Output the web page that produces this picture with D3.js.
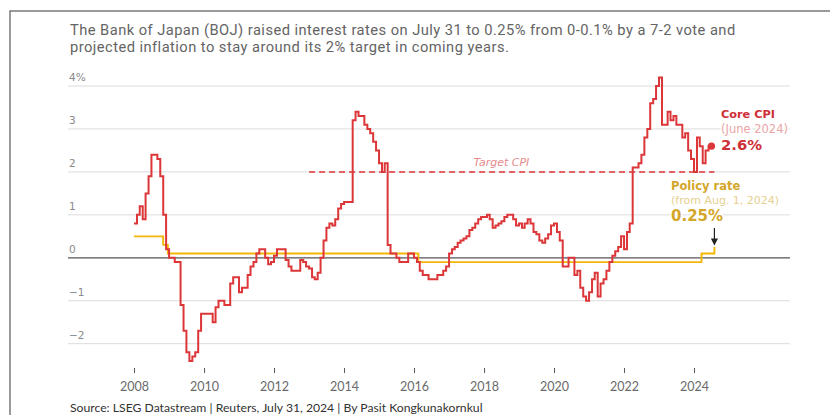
<!DOCTYPE html>
<html>
<head>
<meta charset="utf-8">
<script src="https://cdn.jsdelivr.net/npm/d3@7"></script>
<style>
  body { margin: 0; background: #fff; }
  svg { display: block; }
</style>
</head>
<body>
<svg id="chart" width="830" height="415"></svg>
<script>
// Japan core CPI (ex fresh food), y/y %, one value per month from Jan 2008
const cpiStart = new Date(2008, 0, 1);
const coreCpi = [
  0.8, 1.0, 1.2, 0.9, 1.5, 1.9, 2.4, 2.4, 2.3, 1.9, 1.0, 0.2,          // 2008
  0.0, 0.0, -0.1, -0.1, -1.1, -1.7, -2.2, -2.4, -2.3, -2.2, -1.7, -1.3, // 2009
  -1.3, -1.3, -1.3, -1.5, -1.15, -1.0, -1.0, -1.1, -1.1, -0.6, -0.45, -0.45, // 2010
  -0.8, -0.7, -0.7, -0.4, -0.2, -0.1, 0.1, 0.2, 0.2, 0.0, -0.15, -0.1,  // 2011
  0.05, 0.2, 0.2, 0.2, -0.05, -0.2, -0.3, -0.3, -0.3, -0.05, -0.1, -0.2, // 2012
  -0.25, -0.45, -0.5, -0.35, 0.0, 0.4, 0.7, 0.8, 0.75, 0.9, 1.15, 1.25, // 2013
  1.3, 1.3, 1.3, 3.2, 3.4, 3.3, 3.3, 3.1, 3.0, 2.9, 2.7, 2.5,           // 2014
  2.2, 2.0, 2.2, 0.3, 0.1, 0.1, 0.0, -0.1, -0.1, -0.1, 0.1, 0.1,        // 2015
  0.0, -0.1, -0.3, -0.4, -0.4, -0.5, -0.5, -0.5, -0.4, -0.4, -0.3, -0.2, // 2016
  0.1, 0.2, 0.25, 0.35, 0.4, 0.45, 0.5, 0.65, 0.7, 0.8, 0.9, 0.95,      // 2017
  0.95, 1.0, 0.9, 0.7, 0.75, 0.8, 0.85, 0.95, 1.0, 1.0, 0.9, 0.75,      // 2018
  0.8, 0.7, 0.8, 0.9, 0.8, 0.6, 0.55, 0.4, 0.35, 0.45, 0.55, 0.75,      // 2019
  0.8, 0.6, 0.4, -0.2, -0.2, 0.0, 0.0, -0.4, -0.3, -0.7, -0.9, -1.0,    // 2020
  -0.8, -0.5, -0.35, -0.9, -0.6, -0.5, -0.3, -0.1, 0.05, 0.15, 0.25, 0.5, // 2021
  0.2, 0.6, 0.8, 2.1, 2.1, 2.2, 2.4, 2.8, 3.0, 3.6, 3.7, 4.0,           // 2022
  4.2, 3.1, 3.1, 3.4, 3.2, 3.3, 3.1, 3.1, 2.8, 2.9, 2.5, 2.3,           // 2023
  2.0, 2.8, 2.6, 2.2, 2.5, 2.6                                          // 2024
];

// BOJ policy rate, % (date each level took effect)
const policyDates = ["2008-01-01", "2008-10-31", "2008-12-19", "2016-02-16", "2024-03-19", "2024-08-01"];
const policyRates = [0.5, 0.3, 0.1, -0.1, 0.1, 0.25];

const targetCpi = 2;
const targetSpan = ["2013-01-01", "2024-08-01"];

const yTicks = [4, 3, 2, 1, 0, -1, -2];
const yTickLabels = ["4%", "3", "2", "1", "0", "\u22121", "\u22122"];
const xTickYears = [2008, 2010, 2012, 2014, 2016, 2018, 2020, 2022, 2024];

const titleLines = [
  "The Bank of Japan (BOJ) raised interest rates on July 31 to 0.25% from 0-0.1% by a 7-2 vote and",
  "projected inflation to stay around its 2% target in coming years."
];
const sourceText = "Source: LSEG Datastream | Reuters, July 31, 2024 | By Pasit Kongkunakornkul";

const RED = "#dc3639";
const GOLD = "#f2b705";
const NOTE_FONT = "'DejaVu Sans', Verdana, sans-serif";
const BODY_FONT = "Lato, 'Open Sans', sans-serif";

const parse = d3.timeParse("%Y-%m-%d");
const svg = d3.select("#chart");

// Outer frame
svg.append("rect")
  .attr("x", 10).attr("y", 11)
  .attr("width", 840).attr("height", 420)
  .attr("fill", "none")
  .attr("stroke", "#7a7a7a")
  .attr("stroke-width", 1.5);

// Scales
const x = d3.scaleTime()
  .domain([new Date(2008, 0, 1), new Date(2024, 0, 1)])
  .range([134, 694]);

const y = d3.scaleLinear()
  .domain([-2, 4])
  .range([343.7, 86]);

const plotLeft = 68, plotRight = 790;

// Title
svg.append("g")
  .selectAll("text")
  .data(titleLines)
  .join("text")
  .attr("x", 70)
  .attr("y", (d, i) => 34.5 + i * 17.5)
  .attr("font-family", "Roboto, Lato, sans-serif")
  .attr("font-size", 14.7)
  .attr("letter-spacing", 0.45)
  .attr("fill", "#646464")
  .text(d => d);

// Horizontal gridlines + labels
const grid = svg.append("g");
grid.selectAll("line")
  .data(yTicks)
  .join("line")
  .attr("x1", plotLeft).attr("x2", plotRight)
  .attr("y1", d => y(d)).attr("y2", d => y(d))
  .attr("stroke", d => d === 0 ? "#555" : "#dcdcdc")
  .attr("stroke-width", d => d === 0 ? 1.2 : 1);

grid.selectAll("text")
  .data(yTicks)
  .join("text")
  .attr("x", 69)
  .attr("y", d => y(d) - 5)
  .attr("font-family", NOTE_FONT)
  .attr("font-size", 10.5)
  .attr("fill", "#8a8a8a")
  .text((d, i) => yTickLabels[i]);

// X axis: ticks and year labels only
const xAxis = svg.append("g")
  .attr("transform", "translate(0,368)")
  .call(d3.axisBottom(x)
    .tickValues(xTickYears.map(yr => new Date(yr, 0, 1)))
    .tickFormat(d3.timeFormat("%Y"))
    .tickSize(5)
    .tickPadding(9));
xAxis.select(".domain").remove();
xAxis.selectAll(".tick line").attr("stroke", "#555");
xAxis.selectAll(".tick text")
  .attr("font-family", BODY_FONT)
  .attr("font-size", 12.5)
  .attr("fill", "#6a6a6a");

// Inflation target
svg.append("line")
  .attr("x1", x(parse(targetSpan[0])))
  .attr("x2", x(parse(targetSpan[1])))
  .attr("y1", y(targetCpi)).attr("y2", y(targetCpi))
  .attr("stroke", RED)
  .attr("stroke-width", 1.5)
  .attr("stroke-dasharray", "6,4");

svg.append("text")
  .attr("x", x(new Date(2018, 6, 1)))
  .attr("y", y(targetCpi) - 6)
  .attr("text-anchor", "middle")
  .attr("font-family", NOTE_FONT)
  .attr("font-style", "italic")
  .attr("font-size", 11)
  .attr("fill", "#e58a8c")
  .text("Target CPI");

// Policy rate step line
const policy = policyDates.map((d, i) => ({ date: parse(d), value: policyRates[i] }));
const stepLine = d3.line()
  .x(d => x(d.date))
  .y(d => y(d.value))
  .curve(d3.curveStepAfter);

svg.append("path")
  .datum(policy)
  .attr("fill", "none")
  .attr("stroke", GOLD)
  .attr("stroke-width", 1.9)
  .attr("d", stepLine);

// Core CPI step line, each month held until the next
const cpi = coreCpi.map((v, i) => ({ date: d3.timeMonth.offset(cpiStart, i), value: v }));
const lastCpi = cpi[cpi.length - 1];
const cpiEnd = { date: d3.timeMonth.offset(lastCpi.date, 1), value: lastCpi.value };

svg.append("path")
  .datum(cpi.concat([cpiEnd]))
  .attr("fill", "none")
  .attr("stroke", RED)
  .attr("stroke-width", 2)
  .attr("d", stepLine);

svg.append("circle")
  .attr("cx", x(cpiEnd.date))
  .attr("cy", y(cpiEnd.value))
  .attr("r", 3.6)
  .attr("fill", RED);

// Annotations
function note(xPos, yPos, txt, size, weight, color) {
  svg.append("text")
    .attr("x", xPos).attr("y", yPos)
    .attr("font-family", NOTE_FONT)
    .attr("font-size", size)
    .attr("font-weight", weight)
    .attr("fill", color)
    .attr("stroke", "#fff")
    .attr("stroke-width", 3)
    .attr("paint-order", "stroke")
    .text(txt);
}

note(721, 118, "Core CPI", 11.3, 700, "#cf3037");
note(721, 132.5, "(June 2024)", 11.5, 400, "#eaa5a6");
note(721, 150, lastCpi.value.toFixed(1) + "%", 14.8, 700, "#cf3037");

const rateNow = policyRates[policyRates.length - 1];
note(671, 189.5, "Policy rate", 11.5, 700, "#d3a62a");
note(671, 204, "(from Aug. 1, 2024)", 11, 400, "#e6d08f");
note(671, 221, rateNow.toFixed(2) + "%", 15, 700, "#d3a62a");

// Arrow down to the new rate
const arrowX = x(parse(policyDates[policyDates.length - 1]));
svg.append("defs").append("marker")
  .attr("id", "arrowhead")
  .attr("viewBox", "0 0 10 10")
  .attr("refX", 5).attr("refY", 5)
  .attr("markerWidth", 6).attr("markerHeight", 6)
  .attr("orient", "auto")
  .append("path")
  .attr("d", "M0,0 L10,5 L0,10 z")
  .attr("fill", "#222");

svg.append("line")
  .attr("x1", arrowX).attr("x2", arrowX)
  .attr("y1", 228).attr("y2", 242)
  .attr("stroke", "#222")
  .attr("stroke-width", 1.2)
  .attr("marker-end", "url(#arrowhead)");

// Source line
svg.append("text")
  .attr("x", 70)
  .attr("y", 412)
  .attr("font-family", BODY_FONT)
  .attr("font-size", 12.2)
  .attr("fill", "#333")
  .text(sourceText);
</script>
</body>
</html>
